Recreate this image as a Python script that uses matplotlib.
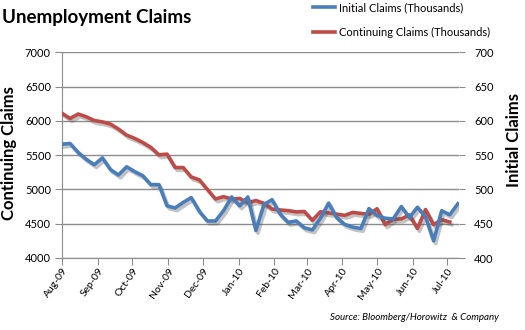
import datetime as dt
import matplotlib
matplotlib.use("Agg")
import matplotlib.pyplot as plt
import matplotlib.dates as mdates
import matplotlib.patheffects as pe

# ---- data (thousands) ----
start = dt.date(2009, 8, 1)
initial_claims = [566, 567, 554, 544, 536, 546, 529, 521, 533, 526,
                  520, 507, 507, 476, 473, 481, 488, 468, 454, 454,
                  469, 489, 476, 489, 440, 478, 485, 464, 452, 454,
                  444, 441, 458, 480, 459, 449, 445, 443, 472, 462,
                  458, 457, 475, 459, 474, 460, 425, 469, 463, 479]
continuing_claims = [6110, 6034, 6100, 6060, 6005, 5985, 5953, 5880, 5792, 5744,
                     5685, 5613, 5505, 5515, 5319, 5319, 5181, 5140, 5000, 4860,
                     4895, 4860, 4868, 4804, 4838, 4797, 4715, 4700, 4691, 4672,
                     4678, 4550, 4675, 4657, 4640, 4622, 4665, 4650, 4637, 4718,
                     4485, 4565, 4570, 4628, 4430, 4706, 4485, 4559, 4525]
dates_initial = [start + dt.timedelta(weeks=i) for i in range(len(initial_claims))]
dates_cont = [start + dt.timedelta(weeks=i) for i in range(len(continuing_claims))]

left_ticks = [4000, 4500, 5000, 5500, 6000, 6500, 7000]
right_ticks = [400, 450, 500, 550, 600, 650, 700]

title = "Unemployment Claims"
label_initial = "Initial Claims (Thousands)"
label_cont = "Continuing Claims (Thousands)"
source = "Source: Bloomberg/Horowitz  & Company"

BLUE = "#4A7EBB"
RED = "#BE4B48"
GRID = "#8C8C8C"
FONT = ["Lato", "DejaVu Sans"]

plt.rcParams["font.family"] = FONT

fig = plt.figure(figsize=(5.25, 3.3), dpi=100)
ax = fig.add_axes([62 / 525, 1 - 258 / 330, (459 - 62) / 525, (258 - 52.3) / 330])
ax2 = ax.twinx()

shadow = [pe.SimpleLineShadow(offset=(1.5, -2), shadow_color="#555555", alpha=0.35), pe.Normal()]

l_red, = ax.plot(dates_cont, continuing_claims, color=RED, lw=2.6,
                 solid_joinstyle="round", path_effects=shadow, label=label_cont, zorder=3)
l_blue, = ax2.plot(dates_initial, initial_claims, color=BLUE, lw=2.6,
                   solid_joinstyle="round", path_effects=shadow, label=label_initial, zorder=3)

ax.set_ylim(4000, 7000)
ax2.set_ylim(400, 700)
ax.set_yticks(left_ticks)
ax2.set_yticks(right_ticks)
ax.set_xlim(mdates.date2num(dt.date(2009, 8, 1)), mdates.date2num(dt.date(2010, 7, 11)))

ax.xaxis.set_major_locator(mdates.MonthLocator())
ax.xaxis.set_major_formatter(mdates.DateFormatter("%b-%y"))

ax.grid(axis="y", color=GRID, lw=1.0)
ax.set_axisbelow(True)
for sp in ["top", "right"]:
    ax.spines[sp].set_visible(False)
for sp in ["top", "right", "left", "bottom"]:
    ax2.spines[sp].set_visible(False)
ax.spines["left"].set_color(GRID)
ax.spines["bottom"].set_color(GRID)

ax.tick_params(axis="y", direction="out", length=5, color=GRID, labelsize=8, pad=3)
ax.tick_params(axis="x", direction="out", length=5, color=GRID, labelsize=7.5, pad=1)
ax2.tick_params(axis="y", direction="out", length=4, color=GRID, labelsize=8, pad=7)

for lbl in ax.get_xticklabels():
    lbl.set_rotation(55)
    lbl.set_ha("right")
    lbl.set_rotation_mode("anchor")

fig.text(9 / 525, 1 - 153 / 330, "Continuing Claims", rotation=90, ha="center", va="center",
         fontsize=12, fontweight="bold")
fig.text(514 / 525, 1 - 140 / 330, "Initial Claims", rotation=90, ha="center", va="center",
         fontsize=12, fontweight="bold")

fig.text(2 / 525, 1 - 17 / 330, title, fontsize=13.5, fontweight="bold", ha="left", va="center")

fig.legend(handles=[l_blue, l_red], loc="upper left", bbox_to_anchor=(313 / 525, 1 - 2 / 330),
           frameon=False, fontsize=8, handlelength=2.0, handletextpad=0.3,
           labelspacing=1.25, borderaxespad=0, borderpad=0)
for line in fig.legends[0].get_lines():
    line.set_path_effects([])

fig.text(499 / 525, 1 - 318 / 330, source, fontsize=7, style="italic", ha="right", va="center")

fig.savefig("out.png", dpi=100, facecolor="white")
